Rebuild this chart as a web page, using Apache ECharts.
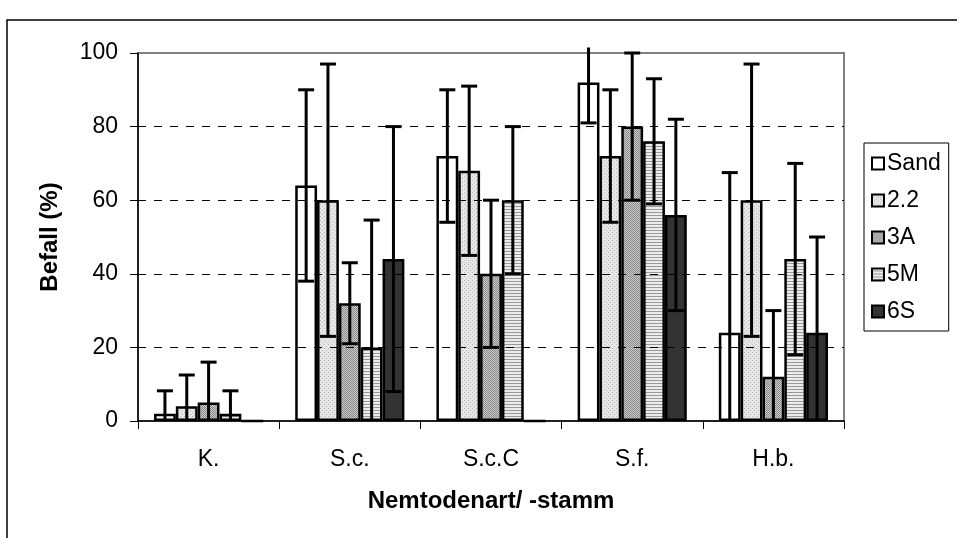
<!DOCTYPE html>
<html lang="de">
<head>
    <meta charset="UTF-8">
    <title>Befall</title>
    <style>
        html, body, #chart {
            width: 100%;
            height: 100%;
            margin: 0;
            padding: 0;
            background: #fff;
        }
    </style>
</head>
<body>
    <div id="chart"></div>
    <script src="https://cdn.jsdelivr.net/npm/echarts@6/dist/echarts.min.js"></script>
    <script>
        var categories = ['K.', 'S.c.', 'S.c.C', 'S.f.', 'H.b.'];
        var seriesNames = ['Sand', '2.2', '3A', '5M', '6S'];
        var yTicks = [0, 20, 40, 60, 80, 100];

        // Mittelwerte
        var sand = [2, 64, 72, 92, 24];
        var s22 = [4, 60, 68, 72, 60];
        var s3a = [5, 32, 40, 80, 12];
        var s5m = [2, 20, 60, 76, 44];
        var s6s = [0, 44, 0, 56, 24];

        // Fehlerbalken (+/-)
        var sandErr = [6.2, 26, 18, 11, 43.5];
        var s22Err = [8.5, 37, 23, 18, 37];
        var s3aErr = [11, 11, 20, 20, 18];
        var s5mErr = [6.2, 34.6, 20, 17, 26];
        var s6sErr = [0, 36, 0, 26, 26];

        var values = [sand, s22, s3a, s5m, s6s];
        var errors = [sandErr, s22Err, s3aErr, s5mErr, s6sErr];

        var font = '"Liberation Sans", Arial, sans-serif';
        var catGap = 0.227;

        function makePattern(type) {
            var c = document.createElement('canvas');
            var ctx = c.getContext('2d');
            var x, y;
            if (type === 'dots') {
                c.width = 4; c.height = 4;
                ctx.fillStyle = '#e6e6e6';
                ctx.fillRect(0, 0, 4, 4);
                ctx.fillStyle = '#b8b8b8';
                ctx.fillRect(0, 0, 1, 1);
                ctx.fillRect(2, 2, 1, 1);
            } else if (type === 'check') {
                c.width = 4; c.height = 4;
                ctx.fillStyle = '#c8c8c8';
                ctx.fillRect(0, 0, 4, 4);
                ctx.fillStyle = '#8c8c8c';
                for (y = 0; y < 4; y++) {
                    for (x = 0; x < 4; x++) {
                        if ((x + y) % 2 === 0) ctx.fillRect(x, y, 1, 1);
                    }
                }
            } else if (type === 'hlines') {
                c.width = 4; c.height = 3;
                ctx.fillStyle = '#ececec';
                ctx.fillRect(0, 0, 4, 3);
                ctx.fillStyle = '#999999';
                ctx.fillRect(0, 2, 4, 1);
            }
            return { image: c, repeat: 'repeat' };
        }

        var fills = ['#ffffff', makePattern('dots'), makePattern('check'), makePattern('hlines'), '#333333'];

        var series = [];
        seriesNames.forEach(function(name, i) {
            series.push({
                name: name,
                type: 'bar',
                data: values[i],
                barGap: '0%',
                barCategoryGap: (catGap * 100) + '%',
                itemStyle: {
                    color: fills[i],
                    borderColor: '#000',
                    borderWidth: 2.5
                },
                emphasis: { disabled: true },
                z: 2
            });
        });

        seriesNames.forEach(function(name, i) {
            var data = values[i].map(function(v, k) {
                return [k, v, errors[i][k]];
            });
            series.push({
                name: name + '-err',
                type: 'custom',
                data: data,
                z: 5,
                silent: true,
                renderItem: function(params, api) {
                    var k = api.value(0);
                    var v = api.value(1);
                    var e = api.value(2);
                    if (!e) return null;
                    var band = api.size([1, 0])[0];
                    var bw = band * (1 - catGap) / seriesNames.length;
                    var center = api.coord([k, v]);
                    var x = center[0] + (i - (seriesNames.length - 1) / 2) * bw;
                    var hi = v + e, lo = v - e;
                    var hiCap = hi <= 100, loCap = lo >= 0;
                    hi = Math.min(hi, 101.5);
                    lo = Math.max(lo, 0);
                    var yHi = api.coord([k, hi])[1];
                    var yLo = api.coord([k, lo])[1];
                    var capW = 8;
                    var style = { stroke: '#000', lineWidth: 3 };
                    var kids = [{
                        type: 'line',
                        shape: { x1: x, y1: yHi, x2: x, y2: yLo },
                        style: style
                    }];
                    if (hiCap) kids.push({
                        type: 'line',
                        shape: { x1: x - capW, y1: yHi, x2: x + capW, y2: yHi },
                        style: style
                    });
                    if (loCap) kids.push({
                        type: 'line',
                        shape: { x1: x - capW, y1: yLo, x2: x + capW, y2: yLo },
                        style: style
                    });
                    return { type: 'group', children: kids };
                }
            });
        });

        var chart = echarts.init(document.getElementById('chart'), null, { renderer: 'canvas' });
        chart.setOption({
            animation: false,
            backgroundColor: '#fff',
            textStyle: { fontFamily: font },
            graphic: [{
                type: 'rect',
                shape: { x: 7, y: 20, width: 1200, height: 800 },
                style: { fill: 'none', stroke: '#000', lineWidth: 1.5 },
                silent: true,
                z: 0
            }],
            grid: {
                left: 138,
                top: 53,
                right: 113,
                bottom: 117,
                show: true,
                borderColor: '#808080',
                borderWidth: 2,
                backgroundColor: 'transparent'
            },
            legend: {
                data: seriesNames,
                orient: 'vertical',
                left: 864,
                top: 143,
                itemWidth: 12,
                itemHeight: 12,
                itemGap: 14,
                icon: 'rect',
                padding: [9, 8, 8, 7],
                borderColor: '#000',
                borderWidth: 1,
                textStyle: { fontSize: 23, lineHeight: 23, color: '#000', fontFamily: font, padding: [0, 0, 0, -2] },
                selectedMode: false
            },
            xAxis: {
                type: 'category',
                data: categories,
                name: 'Nemtodenart/ -stamm',
                nameLocation: 'middle',
                nameGap: 68,
                nameTextStyle: { fontSize: 24, fontWeight: 'bold', color: '#000', fontFamily: font },
                axisLine: { lineStyle: { color: '#000', width: 1.5 } },
                axisTick: { show: true, alignWithLabel: false, length: 8, lineStyle: { color: '#000' } },
                axisLabel: { fontSize: 23, color: '#000', margin: 27, fontFamily: font },
                z: 10
            },
            yAxis: {
                type: 'value',
                min: 0,
                max: 100,
                interval: 20,
                name: 'Befall (%)',
                nameLocation: 'middle',
                nameRotate: 90,
                nameGap: 76,
                nameTextStyle: { fontSize: 24, fontWeight: 'bold', color: '#000', fontFamily: font },
                axisLine: { show: true, lineStyle: { color: '#000', width: 1.5 } },
                axisTick: { show: true, length: 8, lineStyle: { color: '#000' } },
                axisLabel: {
                    fontSize: 23, color: '#000', margin: 20, fontFamily: font,
                    formatter: function(v) { return yTicks.indexOf(v) >= 0 ? String(v) : ''; }
                },
                splitLine: {
                    show: true,
                    lineStyle: {
                        color: ['transparent', '#000', '#000', '#000', '#000', 'transparent'],
                        type: [8, 8],
                        width: 1
                    }
                },
                z: 10
            },
            series: series
        });
    </script>
</body>
</html>
